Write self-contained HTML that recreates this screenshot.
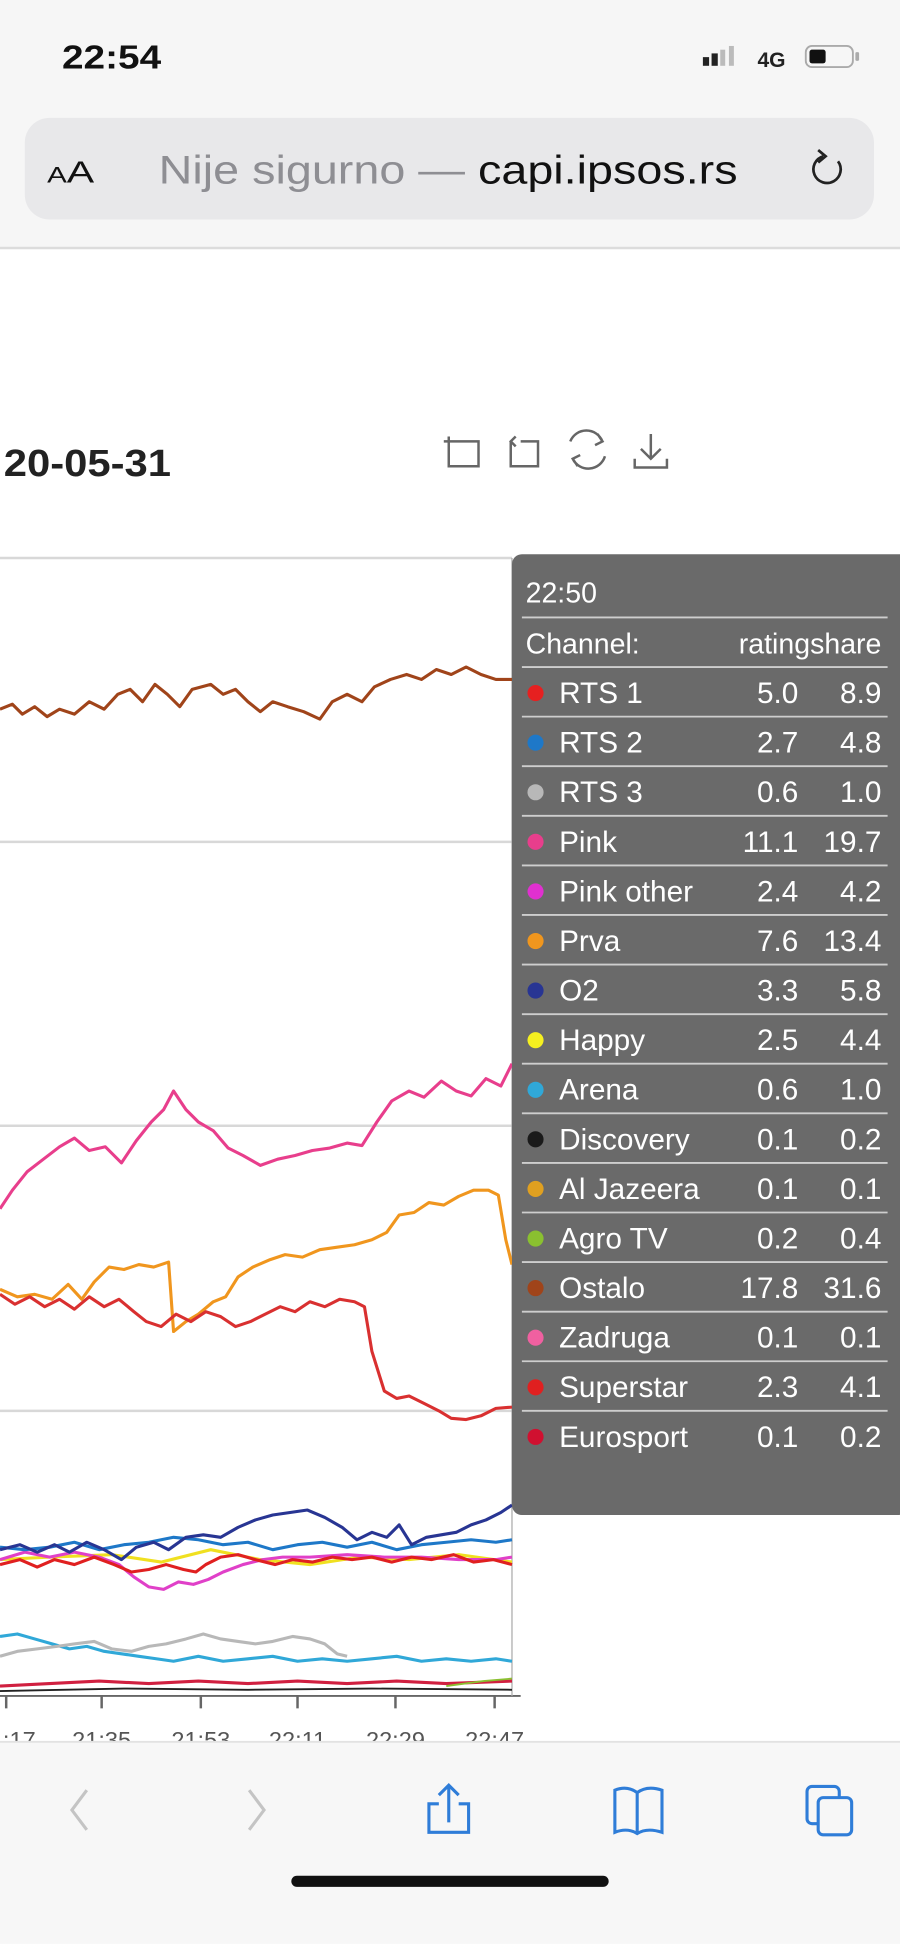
<!DOCTYPE html>
<html><head><meta charset="utf-8"><style>
html,body{margin:0;padding:0;background:#fff;}
svg{display:block;}
text{font-family:"Liberation Sans",sans-serif;}
</style></head><body>
<svg width="900" height="1944" viewBox="0 0 726 1568" xmlns="http://www.w3.org/2000/svg">
<rect x="0" y="0" width="726" height="1568" fill="#fff"/>
<!-- top chrome -->
<rect x="0" y="0" width="726" height="200" fill="#f6f6f6"/>
<line x1="0" y1="200" x2="726" y2="200" stroke="#dcdcdc" stroke-width="2"/>
<text x="50" y="55" font-size="27" font-weight="bold" fill="#111" textLength="80" lengthAdjust="spacingAndGlyphs">22:54</text>
<rect x="567" y="46" width="5" height="7" fill="#222"/>
<rect x="574" y="43" width="5" height="10" fill="#222"/>
<rect x="581" y="40" width="4" height="13" fill="#bbb"/>
<rect x="588" y="37" width="4" height="16" fill="#bbb"/>
<text x="611" y="54" font-size="17" font-weight="bold" fill="#222">4G</text>
<rect x="650" y="37" width="38" height="17" rx="5" fill="none" stroke="#aaa" stroke-width="1.5"/>
<rect x="653" y="40" width="13" height="11" rx="2" fill="#111"/>
<rect x="690" y="42" width="3" height="7" rx="1" fill="#aaa"/>
<rect x="20" y="95" width="685" height="82" rx="20" fill="#e8e8ea"/>
<text x="38" y="147" font-size="18" fill="#111" textLength="38" lengthAdjust="spacingAndGlyphs">A<tspan font-size="25">A</tspan></text>
<text x="128" y="148" font-size="32" fill="#8e8e93" textLength="467" lengthAdjust="spacingAndGlyphs">Nije sigurno — <tspan fill="#111">capi.ipsos.rs</tspan></text>
<path d="M676 130 A11 11 0 1 1 664 126" fill="none" stroke="#222" stroke-width="2.2"/>
<path d="M660 121 L666 126 L660 131" fill="none" stroke="#222" stroke-width="2.2"/>
<!-- title -->
<text x="3" y="384" font-size="31" font-weight="bold" fill="#222" textLength="135" lengthAdjust="spacingAndGlyphs">20-05-31</text>
<g fill="none" stroke="#666" stroke-width="2">
<path d="M362 352 V376 H386 V356 H366 M358 356 H366"/>
<path d="M412 356 V376 H434 V356 H420 M416 352 L412 356 L416 360"/>
<path d="M460 356 A14 14 0 0 1 486 356 M488 368 A14 14 0 0 1 462 370 M482 350 L486 356 L480 359 M466 376 L462 370 L468 367"/>
<path d="M525 350 V370 M517 362 L525 370 L533 362 M512 370 V377 H538 V370"/>
</g>
<!-- grid -->
<g stroke="#d8d8d8" stroke-width="2">
<line x1="0" y1="450" x2="413" y2="450"/>
<line x1="0" y1="679" x2="413" y2="679"/>
<line x1="0" y1="908" x2="413" y2="908"/>
<line x1="0" y1="1138" x2="413" y2="1138"/>
</g>
<line x1="0" y1="1368" x2="420" y2="1368" stroke="#666" stroke-width="1.5"/>
<g stroke="#666" stroke-width="2">
<line x1="5" y1="1368" x2="5" y2="1378"/><line x1="82" y1="1368" x2="82" y2="1378"/>
<line x1="162" y1="1368" x2="162" y2="1378"/><line x1="240" y1="1368" x2="240" y2="1378"/>
<line x1="319" y1="1368" x2="319" y2="1378"/><line x1="399" y1="1368" x2="399" y2="1378"/>
</g>
<line x1="413" y1="450" x2="413" y2="1368" stroke="#aaa" stroke-width="1"/>
<g font-size="19" fill="#555" text-anchor="middle">
<text x="5" y="1410">21:17</text><text x="82" y="1410">21:35</text><text x="162" y="1410">21:53</text>
<text x="240" y="1410">22:11</text><text x="319" y="1410">22:29</text><text x="399" y="1410">22:47</text>
</g>
<!-- series -->
<g fill="none" stroke-width="2.5" stroke-linejoin="round">
<polyline stroke="#a0441a" points="0,572 10,568 18,576 28,570 38,578 48,572 60,576 72,566 84,572 95,560 105,556 115,566 125,552 135,560 145,570 155,556 170,552 180,560 190,556 200,566 210,574 220,566 232,570 245,574 258,580 268,566 280,560 292,566 302,554 315,548 328,544 340,548 352,540 364,544 376,538 388,544 400,548 413,548"/>
<polyline stroke="#e83e8c" points="0,975 10,960 22,945 35,935 48,925 60,918 72,928 85,925 98,938 110,920 122,905 132,895 140,880 150,895 160,905 172,912 184,926 196,932 210,940 224,935 238,932 252,928 266,926 280,922 292,924 304,905 316,888 330,880 342,885 356,872 368,880 380,884 392,870 404,876 413,858"/>
<polyline stroke="#f0961e" points="0,1040 14,1046 28,1044 42,1048 55,1036 66,1048 76,1034 88,1022 100,1024 112,1020 124,1022 136,1018 140,1074 150,1066 160,1060 172,1050 182,1046 192,1030 204,1022 218,1016 230,1012 244,1014 258,1008 272,1006 286,1004 300,1000 312,994 322,980 334,978 346,970 358,972 370,965 382,960 394,960 402,964 408,1000 413,1020"/>
<polyline stroke="#d93030" points="0,1044 12,1052 24,1046 36,1054 48,1048 60,1056 72,1046 84,1054 96,1048 108,1058 118,1066 130,1070 142,1060 154,1066 166,1058 178,1062 190,1070 202,1066 214,1060 226,1054 238,1058 250,1050 262,1054 274,1048 286,1050 294,1054 300,1090 310,1122 320,1128 330,1126 342,1132 354,1138 364,1144 376,1145 388,1142 400,1136 413,1135"/>
<polyline stroke="#30a8d8" points="0,1320 14,1318 28,1322 42,1326 56,1330 70,1328 84,1332 98,1334 112,1336 126,1338 140,1340 160,1336 180,1340 200,1338 220,1336 240,1340 260,1338 280,1340 300,1338 320,1336 340,1340 360,1338 380,1340 400,1338 413,1340"/>
<polyline stroke="#b8b8b8" points="0,1336 14,1332 30,1330 46,1328 60,1326 76,1324 90,1330 106,1332 120,1328 134,1326 150,1322 164,1318 178,1322 192,1324 206,1326 220,1324 236,1320 250,1322 262,1326 272,1334 280,1336"/>
<polyline stroke="#f0e020" points="0,1258 40,1256 90,1254 130,1260 170,1250 210,1258 250,1262 290,1256 330,1258 370,1254 413,1260"/>
<polyline stroke="#e040c8" points="0,1258 20,1252 40,1256 60,1252 80,1256 96,1262 108,1272 120,1280 132,1282 144,1276 156,1278 168,1274 180,1268 196,1262 212,1258 228,1256 250,1256 280,1254 310,1256 340,1256 370,1258 400,1258 413,1256"/>
<polyline stroke="#e02020" points="0,1262 16,1258 30,1264 44,1258 60,1262 76,1256 92,1262 106,1268 120,1266 134,1262 148,1266 158,1268 166,1262 178,1256 192,1254 206,1258 222,1262 236,1258 252,1260 268,1256 284,1258 300,1256 316,1260 332,1256 348,1258 366,1254 382,1260 398,1258 413,1262"/>
<polyline stroke="#1e78c8" points="0,1248 20,1250 40,1248 60,1244 80,1250 100,1246 120,1244 140,1240 160,1242 180,1246 200,1244 220,1250 240,1246 260,1244 280,1248 300,1244 320,1250 340,1246 360,1244 380,1242 400,1244 413,1242"/>
<polyline stroke="#283593" points="0,1250 16,1246 30,1252 44,1246 56,1252 70,1244 84,1250 98,1258 110,1248 124,1244 136,1250 150,1240 164,1238 178,1240 192,1232 206,1226 220,1222 234,1220 248,1218 262,1224 276,1232 288,1242 300,1236 312,1240 322,1230 332,1246 344,1240 356,1238 368,1236 380,1230 392,1226 404,1220 413,1214"/>
<polyline stroke="#d02040" points="0,1360 40,1358 80,1356 120,1358 160,1356 200,1358 240,1356 280,1358 320,1356 360,1358 413,1356"/>
<polyline stroke="#222" points="0,1364 100,1362 200,1363 300,1362 413,1363" stroke-width="1.5"/>
<polyline stroke="#8ac030" points="360,1360 390,1356 413,1354" stroke-width="1.5"/>
</g>
<!-- tooltip -->
<rect x="413" y="447" width="320" height="775" rx="8" fill="#6a6a6a"/>
<g stroke="#e8e8e8" stroke-width="1.5" opacity="0.8">
<line x1="421" y1="498" x2="716" y2="498"/><line x1="421" y1="538" x2="716" y2="538"/>
<line x1="421" y1="578" x2="716" y2="578"/><line x1="421" y1="618" x2="716" y2="618"/>
<line x1="421" y1="658" x2="716" y2="658"/><line x1="421" y1="698" x2="716" y2="698"/>
<line x1="421" y1="738" x2="716" y2="738"/><line x1="421" y1="778" x2="716" y2="778"/>
<line x1="421" y1="818" x2="716" y2="818"/><line x1="421" y1="858" x2="716" y2="858"/>
<line x1="421" y1="898" x2="716" y2="898"/><line x1="421" y1="938" x2="716" y2="938"/>
<line x1="421" y1="978" x2="716" y2="978"/><line x1="421" y1="1018" x2="716" y2="1018"/>
<line x1="421" y1="1058" x2="716" y2="1058"/><line x1="421" y1="1098" x2="716" y2="1098"/>
<line x1="421" y1="1138" x2="716" y2="1138"/>
</g>
<g font-size="23" fill="#fff">
<text x="424" y="486">22:50</text>
<text x="424" y="527">Channel:</text><text x="711" y="527" text-anchor="end">ratingshare</text>
</g>
<g font-size="24" fill="#fff">
<g transform="translate(0,567)"><circle cx="432" cy="-8" r="6.5" fill="#e62020"/><text x="451">RTS 1</text><text x="644" text-anchor="end">5.0</text><text x="711" text-anchor="end">8.9</text></g>
<g transform="translate(0,607)"><circle cx="432" cy="-8" r="6.5" fill="#1e78c8"/><text x="451">RTS 2</text><text x="644" text-anchor="end">2.7</text><text x="711" text-anchor="end">4.8</text></g>
<g transform="translate(0,647)"><circle cx="432" cy="-8" r="6.5" fill="#b8b8b8"/><text x="451">RTS 3</text><text x="644" text-anchor="end">0.6</text><text x="711" text-anchor="end">1.0</text></g>
<g transform="translate(0,687)"><circle cx="432" cy="-8" r="6.5" fill="#e83e8c"/><text x="451">Pink</text><text x="644" text-anchor="end">11.1</text><text x="711" text-anchor="end">19.7</text></g>
<g transform="translate(0,727)"><circle cx="432" cy="-8" r="6.5" fill="#e030d0"/><text x="451">Pink other</text><text x="644" text-anchor="end">2.4</text><text x="711" text-anchor="end">4.2</text></g>
<g transform="translate(0,767)"><circle cx="432" cy="-8" r="6.5" fill="#f0961e"/><text x="451">Prva</text><text x="644" text-anchor="end">7.6</text><text x="711" text-anchor="end">13.4</text></g>
<g transform="translate(0,807)"><circle cx="432" cy="-8" r="6.5" fill="#283593"/><text x="451">O2</text><text x="644" text-anchor="end">3.3</text><text x="711" text-anchor="end">5.8</text></g>
<g transform="translate(0,847)"><circle cx="432" cy="-8" r="6.5" fill="#f5f020"/><text x="451">Happy</text><text x="644" text-anchor="end">2.5</text><text x="711" text-anchor="end">4.4</text></g>
<g transform="translate(0,887)"><circle cx="432" cy="-8" r="6.5" fill="#30a8d8"/><text x="451">Arena</text><text x="644" text-anchor="end">0.6</text><text x="711" text-anchor="end">1.0</text></g>
<g transform="translate(0,927)"><circle cx="432" cy="-8" r="6.5" fill="#1a1a1a"/><text x="451">Discovery</text><text x="644" text-anchor="end">0.1</text><text x="711" text-anchor="end">0.2</text></g>
<g transform="translate(0,967)"><circle cx="432" cy="-8" r="6.5" fill="#e0a020"/><text x="451">Al Jazeera</text><text x="644" text-anchor="end">0.1</text><text x="711" text-anchor="end">0.1</text></g>
<g transform="translate(0,1007)"><circle cx="432" cy="-8" r="6.5" fill="#8ac030"/><text x="451">Agro TV</text><text x="644" text-anchor="end">0.2</text><text x="711" text-anchor="end">0.4</text></g>
<g transform="translate(0,1047)"><circle cx="432" cy="-8" r="6.5" fill="#a0441a"/><text x="451">Ostalo</text><text x="644" text-anchor="end">17.8</text><text x="711" text-anchor="end">31.6</text></g>
<g transform="translate(0,1087)"><circle cx="432" cy="-8" r="6.5" fill="#f060a0"/><text x="451">Zadruga</text><text x="644" text-anchor="end">0.1</text><text x="711" text-anchor="end">0.1</text></g>
<g transform="translate(0,1127)"><circle cx="432" cy="-8" r="6.5" fill="#e02020"/><text x="451">Superstar</text><text x="644" text-anchor="end">2.3</text><text x="711" text-anchor="end">4.1</text></g>
<g transform="translate(0,1167)"><circle cx="432" cy="-8" r="6.5" fill="#d01030"/><text x="451">Eurosport</text><text x="644" text-anchor="end">0.1</text><text x="711" text-anchor="end">0.2</text></g>
</g>
<!-- bottom toolbar -->
<rect x="0" y="1405" width="726" height="163" fill="#f7f7f7"/>
<line x1="0" y1="1405" x2="726" y2="1405" stroke="#e2e2e2" stroke-width="1.5"/>
<g fill="none" stroke="#c4c4c4" stroke-width="2.5">
<path d="M70 1444 L58 1460 L70 1476"/><path d="M201 1444 L213 1460 L201 1476"/>
</g>
<g fill="none" stroke="#2f7dd8" stroke-width="2.5">
<path d="M354 1455 H346 V1478 H378 V1455 H370 M362 1470 V1440 M354 1448 L362 1440 L370 1448"/>
<path d="M496 1478 V1444 Q506 1440 514 1446 Q522 1440 534 1444 V1478 Q522 1474 514 1479 Q506 1474 496 1478 Z M514 1446 V1478"/>
<rect x="651" y="1441" width="26" height="30" rx="4"/>
<rect x="660" y="1450" width="27" height="30" rx="4" fill="#f7f7f7"/>
</g>
<rect x="235" y="1513" width="256" height="9" rx="4.5" fill="#111"/>
</svg>
</body></html>
